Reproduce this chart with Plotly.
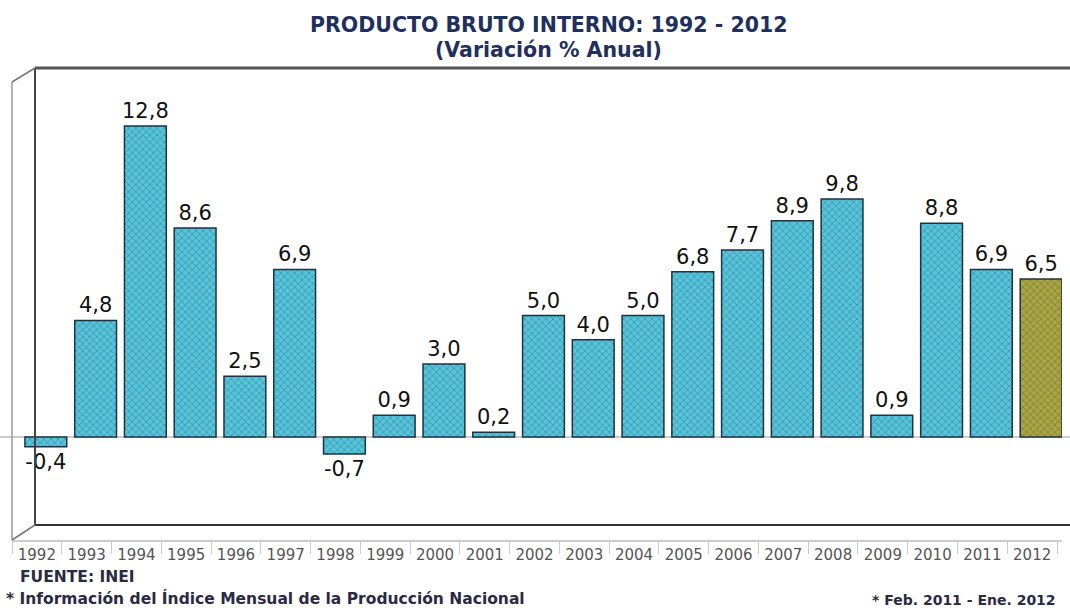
import plotly.graph_objects as go

years = [str(y) for y in range(1992, 2013)]
values = [-0.4, 4.8, 12.8, 8.6, 2.5, 6.9, -0.7, 0.9, 3.0, 0.2, 5.0, 4.0, 5.0,
          6.8, 7.7, 8.9, 9.8, 0.9, 8.8, 6.9, 6.5]
labels = [f"{v:.1f}".replace(".", ",") for v in values]

title_lines = ["PRODUCTO BRUTO INTERNO: 1992 - 2012", "(Variación % Anual)"]
source_text = "FUENTE: INEI"
note_text = "* Información del Índice Mensual de la Producción Nacional"
period_text = "* Feb. 2011 - Ene. 2012"

W, H = 1070, 608
ML, MR, MT, MB = 12, 8, 68, 68
PW, PH = W - ML - MR, H - MT - MB

def px(x):
    return (x - ML) / PW

def py(y):
    return (H - MB - y) / PH

cyan = "#52C6DF"
olive = "#A9A640"
colors = [cyan] * (len(values) - 1) + [olive]
fg = ["#A3E6F4"] * (len(values) - 1) + ["#D6D27A"]

fig = go.Figure()
fig.add_trace(go.Bar(
    x=years, y=values,
    width=0.84, offset=-0.24,
    marker=dict(color=colors, line=dict(color="#1B3440", width=1.5),
                pattern=dict(shape="x", fgcolor=fg, size=5, solidity=0.25)),
    text=labels, textposition="outside", cliponaxis=False, constraintext="none",
    textfont=dict(family="DejaVu Sans", size=21, color="#111111"),
    hoverinfo="skip",
))

shapes = [
    # back wall
    dict(type="line", xref="paper", yref="paper", x0=px(35), x1=px(1070), y0=py(68), y1=py(68),
         line=dict(color="#555555", width=3)),
    dict(type="line", xref="paper", yref="paper", x0=px(35), x1=px(1070), y0=py(525), y1=py(525),
         line=dict(color="#333333", width=2)),
    dict(type="line", xref="paper", yref="paper", x0=px(35), x1=px(35), y0=py(68), y1=py(525),
         line=dict(color="#444444", width=2)),
    # left front edge
    dict(type="line", xref="paper", yref="paper", x0=px(12), x1=px(12), y0=py(82), y1=py(540),
         line=dict(color="#999999", width=1.5)),
    dict(type="line", xref="paper", yref="paper", x0=px(12), x1=px(35), y0=py(82), y1=py(68),
         line=dict(color="#777777", width=1.5)),
    dict(type="line", xref="paper", yref="paper", x0=px(12), x1=px(35), y0=py(540), y1=py(525),
         line=dict(color="#777777", width=1.5)),
    # zero line
    dict(type="line", xref="paper", yref="y", x0=px(0), x1=px(1070), y0=0, y1=0,
         line=dict(color="#BBBBBB", width=1.5), layer="below"),
]

fig.update_layout(
    width=W, height=H,
    margin=dict(l=ML, r=MR, t=MT, b=MB),
    paper_bgcolor="white", plot_bgcolor="white",
    showlegend=False,
    shapes=shapes,
    xaxis=dict(type="category", showgrid=False, zeroline=False,
               showline=True, linecolor="#CCCCCC", linewidth=1.5,
               ticks="outside", tickson="boundaries", ticklen=12, tickcolor="#CCCCCC",
               tickfont=dict(family="DejaVu Sans", size=15, color="#555555")),
    yaxis=dict(range=[-4.24, 15.19], showgrid=False, zeroline=False, showticklabels=False,
               showline=False),
    annotations=[
        dict(text="<b>" + title_lines[0] + "</b>", xref="paper", yref="paper",
             x=px(548), y=py(25), xanchor="center", yanchor="middle", showarrow=False,
             font=dict(family="DejaVu Sans", size=20.5, color="#1F2F5E")),
        dict(text="<b>" + title_lines[1] + "</b>", xref="paper", yref="paper",
             x=px(548), y=py(50), xanchor="center", yanchor="middle", showarrow=False,
             font=dict(family="DejaVu Sans", size=20.5, color="#1F2F5E")),
        dict(text="<b>" + source_text + "</b>", xref="paper", yref="paper",
             x=px(18), y=py(577), xanchor="left", yanchor="middle", showarrow=False,
             font=dict(family="DejaVu Sans", size=15.5, color="#2A2A44")),
        dict(text="<b>" + note_text + "</b>", xref="paper", yref="paper",
             x=px(4), y=py(598), xanchor="left", yanchor="middle", showarrow=False,
             font=dict(family="DejaVu Sans", size=15.5, color="#2A2A44")),
        dict(text="<b>" + period_text + "</b>", xref="paper", yref="paper",
             x=px(1058), y=py(600), xanchor="right", yanchor="middle", showarrow=False,
             font=dict(family="DejaVu Sans", size=14, color="#2A2A44")),
    ],
)

fig.write_html("out.html", config={"displayModeBar": False},
               post_script="document.body.style.margin='0px';document.body.style.overflow='hidden';")
